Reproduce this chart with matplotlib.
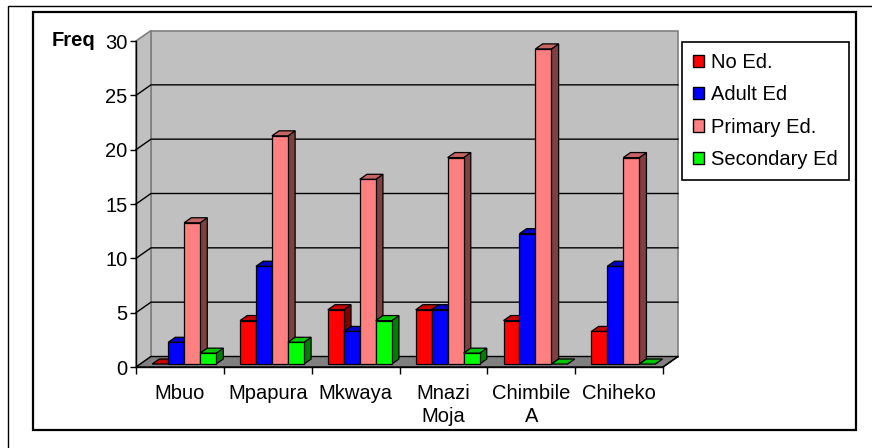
import matplotlib.pyplot as plt
import numpy as np
from matplotlib.patches import Polygon, Rectangle, Patch
from matplotlib.colors import to_rgb

plt.rcParams['font.family'] = ['Liberation Sans', 'DejaVu Sans']

villages = ['Mbuo', 'Mpapura', 'Mkwaya', 'Mnazi\nMoja', 'Chimbile\nA', 'Chiheko']
series = ['No Ed.', 'Adult Ed', 'Primary Ed.', 'Secondary Ed']
no_ed = [0, 4, 5, 5, 4, 3]
adult_ed = [2, 9, 3, 5, 12, 9]
primary_ed = [13, 21, 17, 19, 29, 19]
secondary_ed = [1, 2, 4, 1, 0, 0]
colors = ['#ff0000', '#0000ff', '#ff8080', '#00ff00']

values = [no_ed, adult_ed, primary_ed, secondary_ed]

W, H = 872, 448
fig = plt.figure(figsize=(W / 100, H / 100), dpi=100)
fig.patch.set_facecolor('white')

# front plane of the 3d box, in pixels
left, right, bottom, top = 136, 663, 367, 41
ax = fig.add_axes([left / W, 1 - bottom / H, (right - left) / W, (bottom - top) / H])
ncat = len(villages)
ymax = 30
ax.set_xlim(0, ncat)
ax.set_ylim(0, ymax)
ax.patch.set_visible(False)

# depth offset of the back wall in data units
dx = 15 / ((right - left) / ncat)
dy = 10.5 / ((bottom - top) / ymax)

wall = '#c0c0c0'
edge_gray = '#808080'
ax.add_patch(Polygon([(dx, dy), (ncat + dx, dy), (ncat + dx, ymax + dy), (dx, ymax + dy)],
                     closed=True, facecolor=wall, edgecolor=edge_gray, lw=1.2, clip_on=False, zorder=0))
ax.add_patch(Polygon([(0, 0), (dx, dy), (dx, ymax + dy), (0, ymax)],
                     closed=True, facecolor=wall, edgecolor=edge_gray, lw=1.2, clip_on=False, zorder=0))
ax.add_patch(Polygon([(0, 0), (ncat, 0), (ncat + dx, dy), (dx, dy)],
                     closed=True, facecolor='#808080', edgecolor='black', lw=1, clip_on=False, zorder=0.5))

# gridlines on back and side walls
for g in range(5, ymax, 5):
    ax.plot([0, dx, ncat + dx], [g, g + dy, g + dy], color='black', lw=1, clip_on=False, zorder=0.6)

# bars
nser = len(series)
bw = 1 / (nser + 1.5)
off = 0.75 * bw
f0, f1 = 0.28, 0.76
bdx, bdy = (f1 - f0) * dx, (f1 - f0) * dy
for i in range(ncat):
    for j in range(nser):
        v = values[j][i]
        c = np.array(to_rgb(colors[j]))
        x0 = i + off + j * bw + f0 * dx
        y0 = f0 * dy
        z = 1 + i * 0.1 + j * 0.01
        kw = dict(edgecolor='black', lw=0.9, clip_on=False, zorder=z, joinstyle='miter')
        ax.add_patch(Polygon([(x0 + bw, y0), (x0 + bw + bdx, y0 + bdy),
                              (x0 + bw + bdx, y0 + v + bdy), (x0 + bw, y0 + v)],
                             closed=True, facecolor=c * 0.5, **kw))
        ax.add_patch(Polygon([(x0, y0 + v), (x0 + bw, y0 + v),
                              (x0 + bw + bdx, y0 + v + bdy), (x0 + bdx, y0 + v + bdy)],
                             closed=True, facecolor=c * 0.78, **kw))
        if v > 0:
            ax.add_patch(Rectangle((x0, y0), bw, v, facecolor=c, **kw))

# axes lines and ticks
for s in ['top', 'right']:
    ax.spines[s].set_visible(False)
for s in ['left', 'bottom']:
    ax.spines[s].set_color('black')
    ax.spines[s].set_linewidth(1)
    ax.spines[s].set_zorder(5)
ax.plot([ncat, ncat + dx], [0, dy], color='black', lw=1, clip_on=False, zorder=5)

ax.set_yticks(range(0, ymax + 1, 5))
ax.tick_params(axis='y', direction='out', length=4, width=1, pad=2, labelsize=14.5)
ax.set_xticks(range(ncat + 1))
ax.set_xticklabels([])
ax.tick_params(axis='x', which='major', direction='out', length=5, width=1)
ax.set_xticks(np.arange(ncat) + 0.5, minor=True)
ax.set_xticklabels(villages, minor=True, fontsize=14.5, linespacing=1.3)
ax.tick_params(axis='x', which='minor', length=0, pad=12)

fig.text(52 / W, 1 - 41 / H, 'Freq', fontsize=14.5, fontweight='bold', ha='left', va='center')

handles = [Patch(facecolor=c, edgecolor='black', lw=1) for c in colors]
leg = fig.legend(handles, series, loc='upper left', bbox_to_anchor=(682 / W, 1 - 42 / H),
                 fontsize=14.5, frameon=True, fancybox=False, framealpha=1, edgecolor='black',
                 handlelength=0.55, handleheight=0.55, handletextpad=0.35, labelspacing=0.66,
                 borderpad=0.55, borderaxespad=0)
leg.get_frame().set_linewidth(1.2)

# chart frames
fig.add_artist(Rectangle((33 / W, 1 - 430 / H), (856 - 33) / W, (430 - 12) / H,
                         transform=fig.transFigure, fill=False, edgecolor='black', lw=1.6))
fig.add_artist(Rectangle((8 / W, -0.1), 1.2, 1 - 6 / H + 0.1,
                         transform=fig.transFigure, fill=False, edgecolor='black', lw=1))

fig.savefig('out.png', dpi=100)
